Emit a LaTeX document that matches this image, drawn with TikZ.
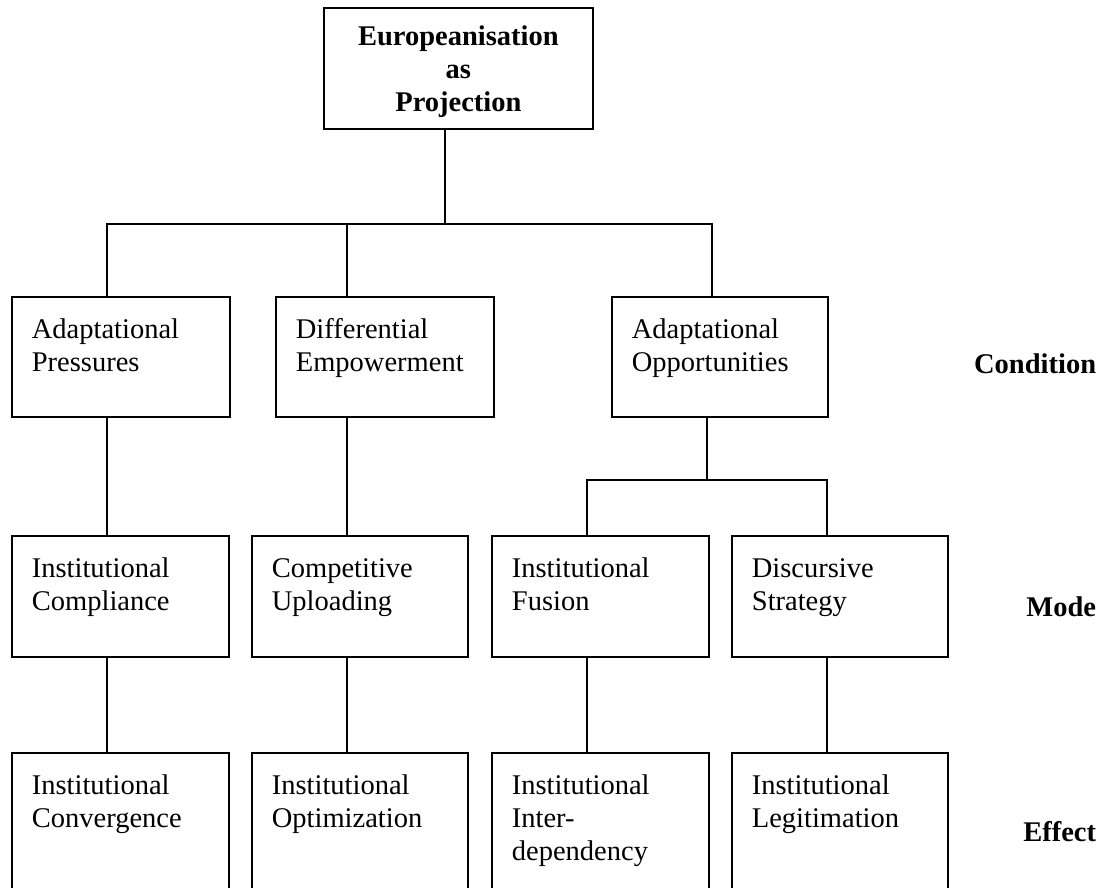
\documentclass[tikz,border=0pt]{standalone}
\usepackage{fontspec}
\setmainfont{Liberation Serif}
\begin{document}
\begin{tikzpicture}[x=1pt,y=-1pt,line width=1.8pt,
  every node/.style={font=\fontsize{28.5}{33}\selectfont},
  box/.style={draw, anchor=north west, inner xsep=20pt, inner ysep=0pt,
    align=left, text width=#1, text height=42pt},
  cond/.style={box=#1, text depth=78pt},
  modebox/.style={box=#1, text depth=79pt},
  effbox/.style={box=#1, text depth=200pt},
  topbox/.style={draw, anchor=north west, inner xsep=10pt, inner ysep=0pt,
    align=center, text width=249pt, text height=38pt, text depth=83pt,
    font=\fontsize{28.5}{33}\selectfont\bfseries},
  lab/.style={anchor=base east, inner sep=0pt, font=\fontsize{28.5}{33}\selectfont\bfseries}]
\useasboundingbox (0,0) rectangle (1104,887);
\fill[white] (0,0) rectangle (1104,887);
\clip (0,0) rectangle (1104,887);

% top
\node[topbox] (T) at (323,7) {Europeanisation\\as\\Projection};

% condition row
\node[cond=178pt] (C1) at (11,296) {Adaptational\\Pressures};
\node[cond=178pt] (C2) at (275,296) {Differential\\Empowerment};
\node[cond=176pt] (C3) at (611,296) {Adaptational\\Opportunities};

% mode row
\node[modebox=177pt] (M1) at (11,535) {Institutional\\Compliance};
\node[modebox=176pt] (M2) at (251,535) {Competitive\\Uploading};
\node[modebox=177pt] (M3) at (491,535) {Institutional\\Fusion};
\node[modebox=176pt] (M4) at (731,535) {Discursive\\Strategy};

% effect row
\node[effbox=177pt] (E1) at (11,752) {Institutional\\Convergence};
\node[effbox=176pt] (E2) at (251,752) {Institutional\\Optimization};
\node[effbox=177pt] (E3) at (491,752) {Institutional\\Inter-\\dependency};
\node[effbox=176pt] (E4) at (731,752) {Institutional\\Legitimation};

% side labels
\node[lab] (LC) at (1097,373) {Condition};
\node[lab] (LM) at (1097,616) {Mode};
\node[lab] (LE) at (1097,841) {Effect};

% connectors
\coordinate (bar) at (445,224);
\coordinate (b1) at (107,224);
\coordinate (b2) at (347,224);
\coordinate (b3) at (712,224);
\coordinate (s0) at (707,480);
\coordinate (s1) at (587,480);
\coordinate (s2) at (827,480);

\draw (T.south -| bar) -- (bar);
\draw (C1.north -| b1) -- (b1) -- (b3) -- (C3.north -| b3);
\draw (b2) -- (C2.north -| b2);

\draw (C1.south -| b1) -- (M1.north -| b1);
\draw (C2.south -| b2) -- (M2.north -| b2);
\draw (C3.south -| s0) -- (s0);
\draw (M3.north -| s1) -- (s1) -- (s2) -- (M4.north -| s2);

\draw (M1.south -| b1) -- (E1.north -| b1);
\draw (M2.south -| b2) -- (E2.north -| b2);
\draw (M3.south -| s1) -- (E3.north -| s1);
\draw (M4.south -| s2) -- (E4.north -| s2);
\end{tikzpicture}
\end{document}
